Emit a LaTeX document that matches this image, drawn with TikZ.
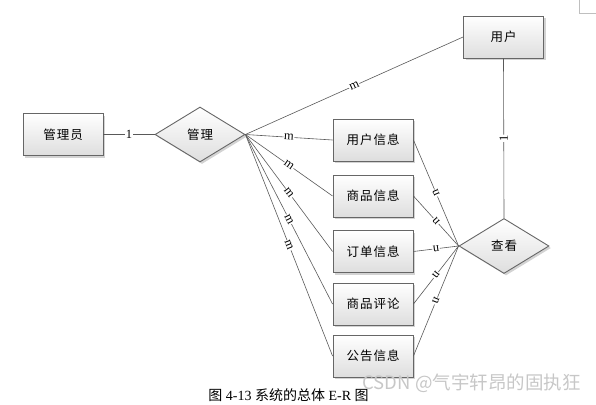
\documentclass[tikz,border=0pt]{standalone}
\usepackage{fontspec}
\setmainfont{Liberation Serif}
\newfontfamily\cjk{Noto Sans CJK SC}
\newfontfamily\cjkbox[LetterSpace=8]{Noto Sans CJK SC}
\usetikzlibrary{positioning,shapes,shadows,arrows,calc}

\tikzset{
    entity/.style={draw=black!60, line width=0.9pt, top color=white, bottom color=black!13,
        minimum width=80pt, minimum height=42pt, font=\cjkbox\fontsize{12.5}{14}\selectfont,
        drop shadow={opacity=0.35, shadow xshift=2pt, shadow yshift=-2pt}},
    relation/.style={entity, diamond, aspect=1.6, minimum width=90pt, minimum height=55pt, inner sep=0pt},
    link/.style={draw=black!65, line width=0.6pt},
    card/.style={fill=white, inner sep=0.6pt, font=\fontsize{12.5}{13}\selectfont}
}

\begin{document}
\begin{tikzpicture}[x=1pt, y=-1pt]
            \useasboundingbox (0,0) rectangle (596,404);
            \node[entity] (admin) at (63,134.5) {管理员};
            \node[relation] (manage) at (200,134.5) {管理};
            \node[entity] (user) at (503.5,37) {用户};
            \node[entity] (userinfo) at (373,140) {用户信息};
            \node[entity] (goods) at (373,196) {商品信息};
            \node[entity] (order) at (373,251.5) {订单信息};
            \node[entity] (review) at (373,304) {商品评论};
            \node[entity] (notice) at (373,356) {公告信息};
            \node[relation] (view) at (504,246) {查看};

            \draw[link] (admin) -- (manage) node[midway, card] {1};
            \draw[link] (manage.east) -- (user.west) node[midway, sloped, card] {m};
            \draw[link] (view.north) -- (user.south) node[midway, sloped, allow upside down, card] {1};
            \foreach \e in {userinfo,goods,order,review,notice} {
                \draw[link] (manage.east) -- (\e.west) node[midway, sloped, card] {m};
                \draw[link] (view.west) -- (\e.east) node[midway, sloped, allow upside down, card] {n};
            }

            % page corner and caption
            \draw[black!25] (579,0) -- (579,13) -- (596,13);
            \node[font=\fontsize{14}{16}\selectfont] (caption) at (288.5,395) {{\cjk 图} 4-13 {\cjk 系统的总体} E-R {\cjk 图}};
            \node[text=black!22, font=\cjk\fontsize{18.5}{20}\selectfont] (mark) at (471.5,383) {CSDN @气宇轩昂的固执狂};
        \end{tikzpicture}
\end{document}
